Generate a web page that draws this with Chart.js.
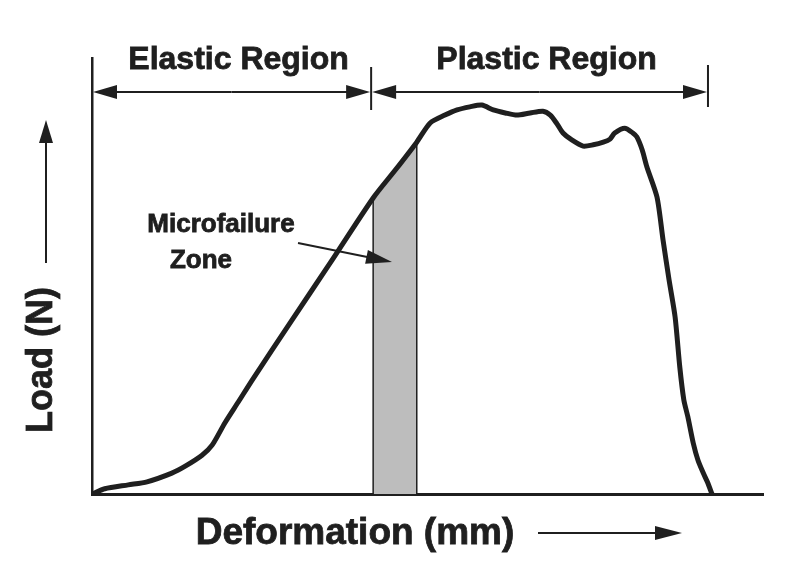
<!DOCTYPE html>
<html lang="en">

<head>
    <meta charset="utf-8">
    <script src="https://cdn.jsdelivr.net/npm/chart.js@4.4.1/dist/chart.umd.min.js"></script>
    <style>
        html, body { margin: 0; padding: 0; background: #fff; }
    </style>
</head>

<body>
    <canvas id="loadChart" width="790" height="567"></canvas>

    <script>
        // load / deformation curve (no units on the axes, 0-100 both ways)
        const deformation = [0, 1.9, 5.4, 8.2, 11.9, 13.9, 16.4, 17.9, 19.8, 21.8, 23.9, 29.5, 35.5, 41.9, 45.2, 48.4,
            50.4, 52.6, 54.4, 56.3, 58.1, 59.8, 61.6, 63.3, 65.3, 67.2, 68.3, 69.3, 70.2, 71.5, 73.2, 74.7, 76.2, 77.2,
            77.9, 79.4, 80.6, 81.2, 82.0, 82.7, 84.2, 85.1, 86.0, 86.9, 87.6, 88.2, 88.8, 89.6, 90.3, 91.1, 91.7, 92.4];
        const load = [0, 1.2, 2.1, 2.8, 4.8, 6.4, 8.9, 11.2, 16.3, 21.1, 26.2, 39.2, 53.0, 67.9, 74.3, 80.7,
            85.1, 86.9, 88.1, 88.8, 89.2, 88.1, 87.4, 86.9, 87.4, 87.8, 86.9, 84.9, 82.8, 81.2, 79.8, 80.1, 80.7, 81.4,
            82.8, 83.9, 82.8, 81.9, 78.9, 75.0, 68.1, 58.3, 49.1, 40.6, 29.1, 21.6, 17.7, 11.7, 7.8, 4.8, 2.8, 0];

        // shaded microfailure band (deformation range)
        const zoneRange = [41.9, 48.4];
        const zoneLabel = ['Microfailure', 'Zone'];

        // regions marked along the top
        const regionLabels = ['Elastic Region', 'Plastic Region'];
        const regionBounds = [0, 41.6, 91.8];

        const xTitle = 'Deformation (mm)';
        const yTitle = 'Load (N)';

        const ink = '#1f1f1f';
        const font = '"Liberation Sans", Arial, sans-serif';

        const curvePts = deformation.map((d, i) => ({ x: d, y: load[i] }));
        const zonePts = [{ x: zoneRange[0], y: 0 }]
            .concat(curvePts.filter(p => p.x >= zoneRange[0] && p.x <= zoneRange[1]))
            .concat([{ x: zoneRange[1], y: 0 }]);

        function arrow(ctx, x1, y1, x2, y2, len, half) {
            const a = Math.atan2(y2 - y1, x2 - x1);
            const bx = x2 - Math.cos(a) * len, by = y2 - Math.sin(a) * len;
            ctx.beginPath();
            ctx.moveTo(x1, y1);
            ctx.lineTo(bx + Math.cos(a) * 2, by + Math.sin(a) * 2);
            ctx.stroke();
            ctx.beginPath();
            ctx.moveTo(x2, y2);
            ctx.lineTo(bx - Math.sin(a) * half, by + Math.cos(a) * half);
            ctx.lineTo(bx + Math.sin(a) * half, by - Math.cos(a) * half);
            ctx.closePath();
            ctx.fill();
        }

        function label(ctx, text, x, y, size, rot) {
            ctx.save();
            ctx.translate(x, y);
            if (rot) ctx.rotate(rot);
            ctx.font = 'bold ' + size + 'px ' + font;
            ctx.textAlign = 'center';
            ctx.textBaseline = 'middle';
            ctx.fillText(text, 0, 0);
            // a thin stroke to get closer to the heavy original lettering
            ctx.lineWidth = 0.8;
            ctx.strokeText(text, 0, 0);
            ctx.restore();
        }

        const annotate = {
            id: 'annotate',
            afterDraw(chart) {
                const { ctx, chartArea } = chart;
                const x = chart.scales.x;
                const top = chartArea.top, left = chartArea.left, bottom = chartArea.bottom;
                ctx.save();
                ctx.fillStyle = ink;
                ctx.strokeStyle = ink;
                ctx.lineWidth = 2;

                // region arrows along the top
                const bx = regionBounds.map(v => x.getPixelForValue(v));
                const barY = top + 34;
                ctx.beginPath();
                ctx.moveTo(bx[1], top + 9); ctx.lineTo(bx[1], top + 52);
                ctx.moveTo(bx[2], top + 7); ctx.lineTo(bx[2], top + 49);
                ctx.stroke();
                for (let i = 0; i < regionLabels.length; i++) {
                    const mid = (bx[i] + bx[i + 1]) / 2;
                    arrow(ctx, mid, barY, bx[i] + 1, barY, 24, 7);
                    arrow(ctx, mid, barY, bx[i + 1] - 1, barY, 24, 7);
                    label(ctx, regionLabels[i], mid + 7, top + 2, 32);
                }

                // axis titles with their arrows
                ctx.lineWidth = 2;
                arrow(ctx, left - 46, top + 205, left - 46, top + 62, 23, 7);
                label(ctx, yTitle, left - 50, top + 302, 36, -Math.PI / 2);
                ctx.lineWidth = 2;
                arrow(ctx, 538, bottom + 39, 682, bottom + 39, 27, 7);
                label(ctx, xTitle, 355, bottom + 40, 37);

                // microfailure callout
                label(ctx, zoneLabel[0], 221, 225, 26);
                label(ctx, zoneLabel[1], 201, 261, 26);
                ctx.lineWidth = 2;
                arrow(ctx, 298, 243, 392, 262, 26, 7);
                ctx.restore();
            }
        };

        new Chart(document.getElementById('loadChart'), {
            type: 'line',
            data: {
                datasets: [{
                    label: 'Load',
                    data: curvePts,
                    borderColor: ink,
                    borderWidth: 5,
                    borderJoinStyle: 'round',
                    borderCapStyle: 'round',
                    tension: 0.25,
                    pointRadius: 0,
                    fill: false,
                    order: 0
                }, {
                    label: 'Microfailure zone',
                    data: zonePts,
                    borderColor: ink,
                    borderWidth: 1.5,
                    backgroundColor: '#bdbdbd',
                    tension: 0,
                    pointRadius: 0,
                    fill: 'origin',
                    order: 1
                }]
            },
            options: {
                responsive: false,
                animation: false,
                devicePixelRatio: 1,
                layout: { padding: { left: 84, right: 27, top: 58, bottom: 65 } },
                plugins: {
                    legend: { display: false },
                    tooltip: { enabled: false }
                },
                scales: {
                    x: {
                        type: 'linear',
                        min: 0,
                        max: 100,
                        grid: { display: false },
                        ticks: { display: false },
                        border: { display: true, color: ink, width: 3 }
                    },
                    y: {
                        min: 0,
                        max: 100,
                        grid: { display: false },
                        ticks: { display: false },
                        border: { display: true, color: ink, width: 2.5 }
                    }
                }
            },
            plugins: [annotate]
        });
    </script>
</body>

</html>
